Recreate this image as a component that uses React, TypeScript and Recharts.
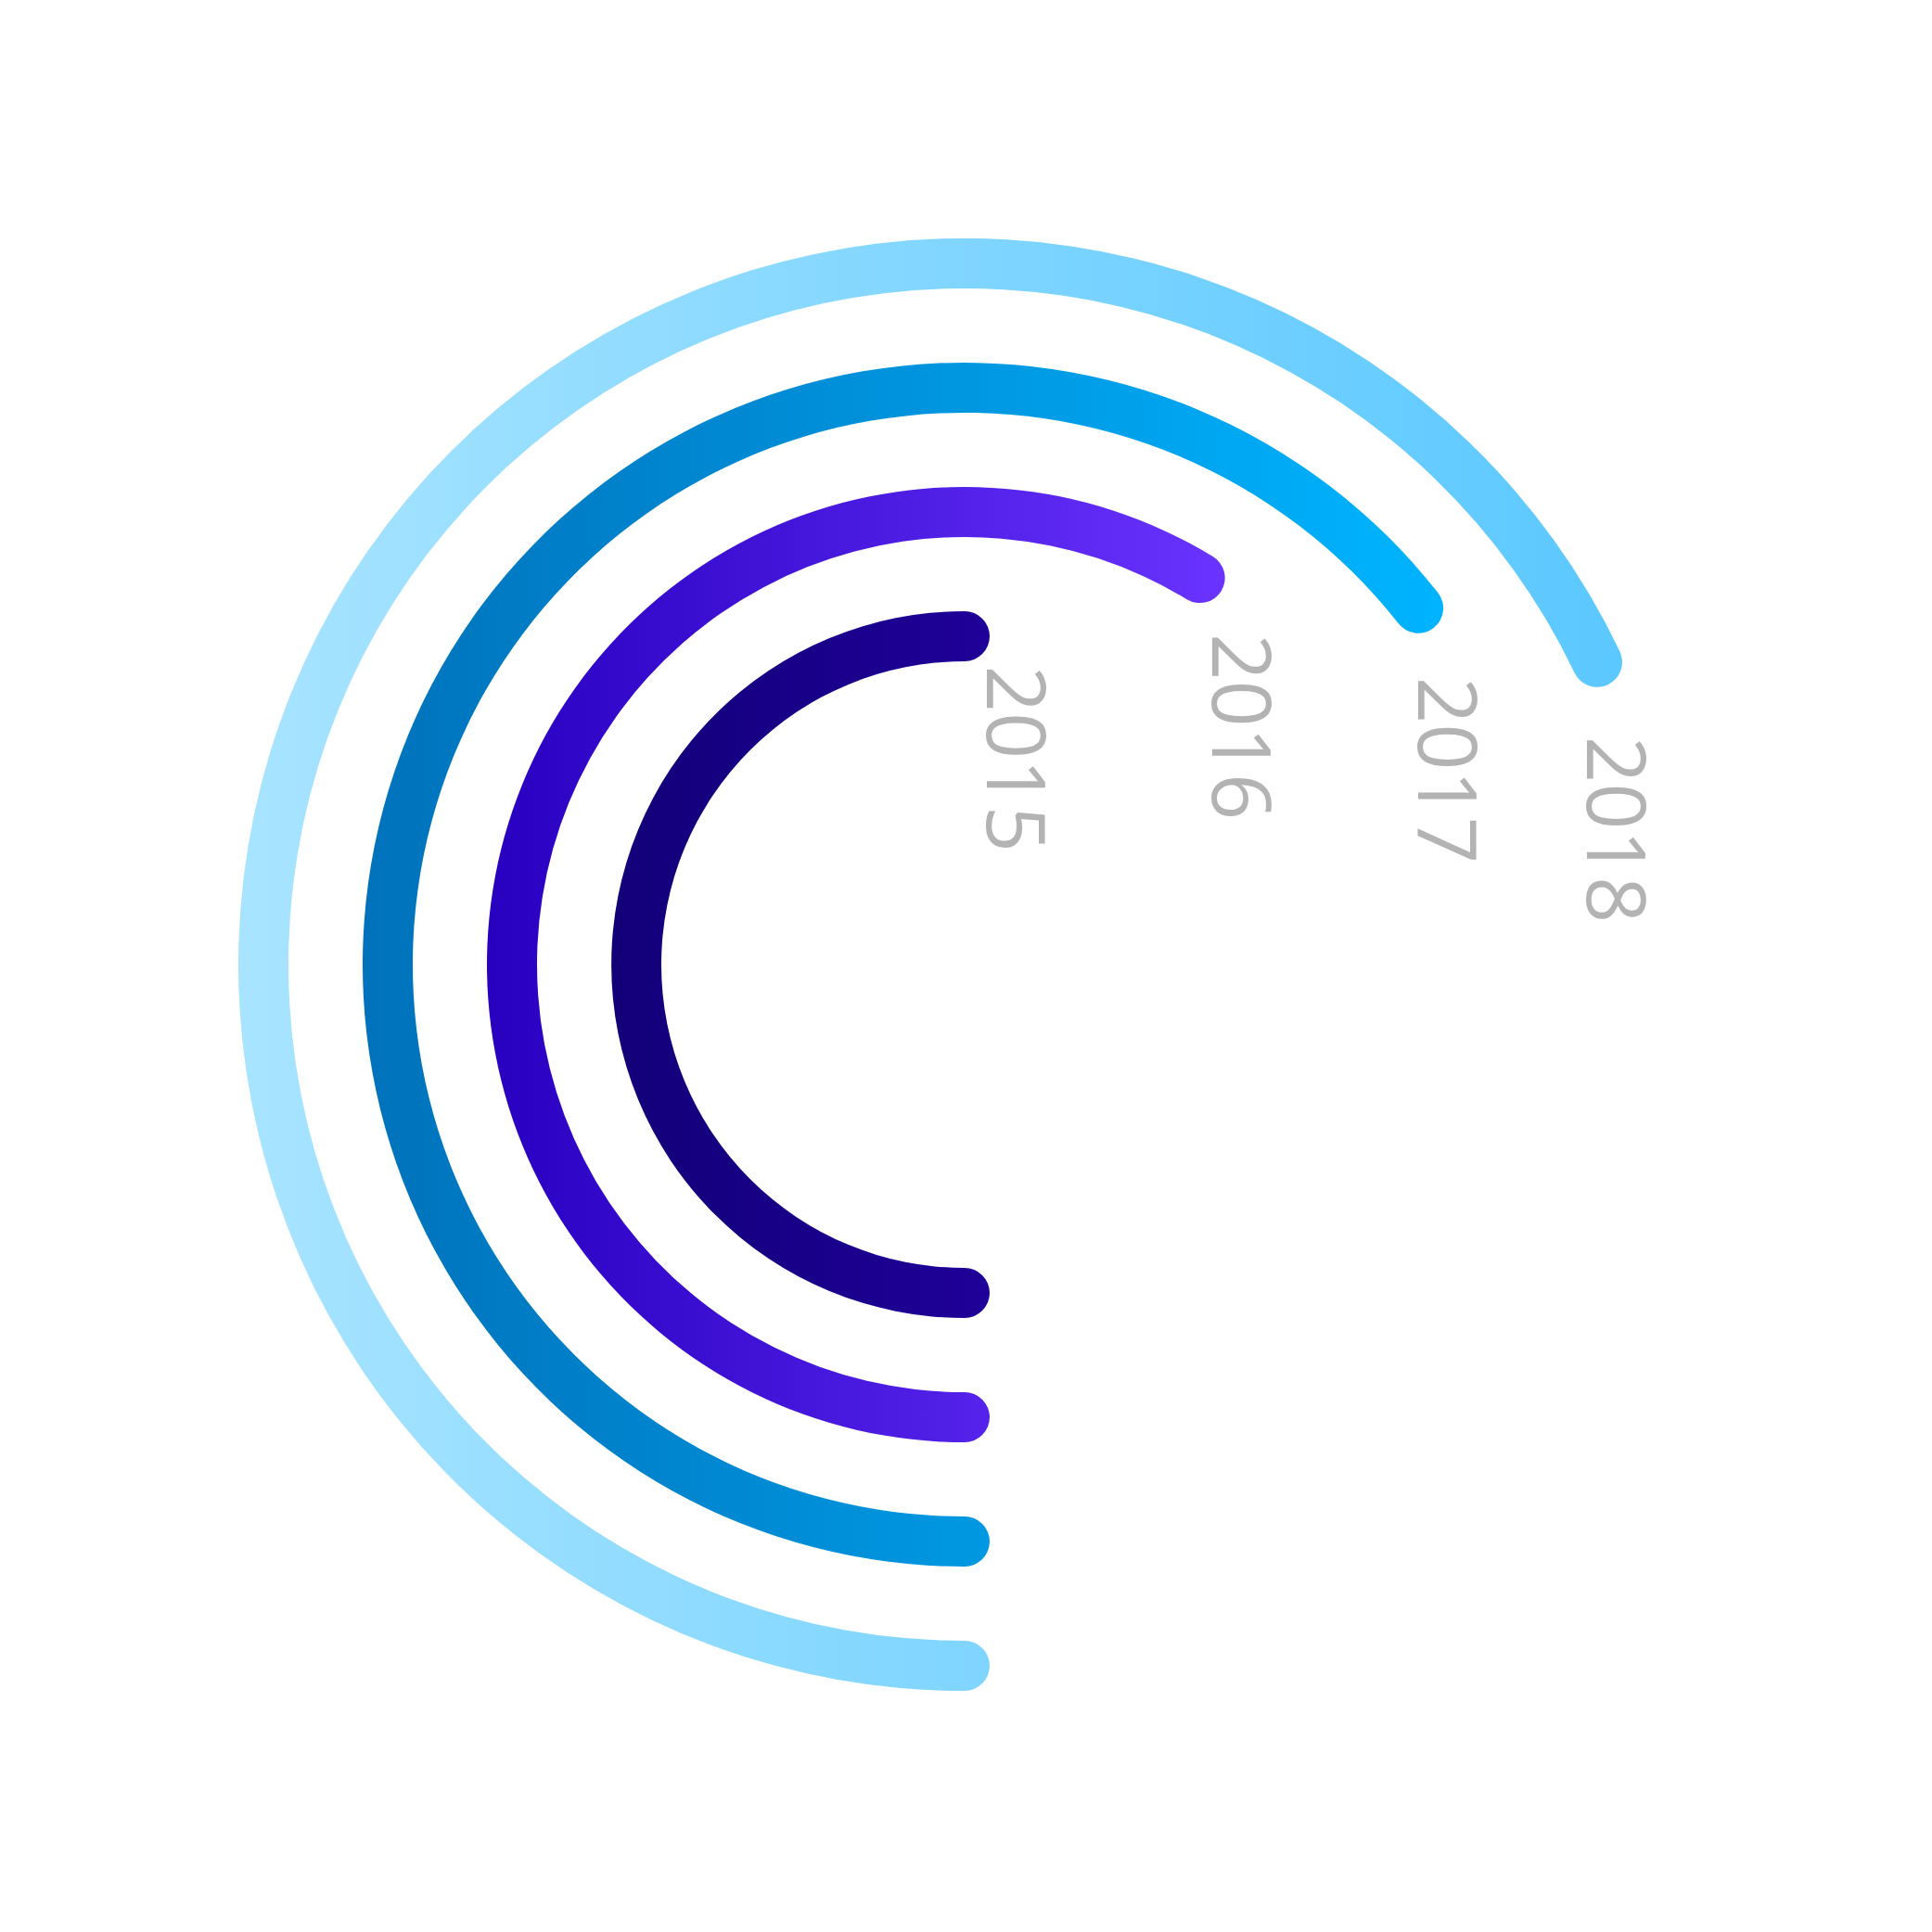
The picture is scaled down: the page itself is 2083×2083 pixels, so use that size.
import React from 'react';
import { RadialBarChart, RadialBar, PolarAngleAxis } from 'recharts';

const years = ['2015', '2016', '2017', '2018'];
const shares = [50, 58.7, 64.4, 67.9];
const leftColors = ['#120078', '#2800c0', '#0072bb', '#a8e4ff'];
const rightColors = ['#1f0099', '#6a33ff', '#00b4ff', '#5bc8ff'];

const data = years.map((year, i) => ({ year, value: shares[i] }));

const RAD = Math.PI / 180;
const polar = (cx: number, cy: number, r: number, a: number) => ({
  x: cx + Math.cos(-a * RAD) * r,
  y: cy + Math.sin(-a * RAD) * r,
});

const ArcShape = (props: any) => {
  const { cx, cy, innerRadius, outerRadius, startAngle, endAngle, index, payload } = props;
  const r = (innerRadius + outerRadius) / 2;
  const w = outerRadius - innerRadius;
  const h = w / 2;
  const span = Math.abs(startAngle - endAngle);
  const large = span > 180 ? 1 : 0;
  const so = polar(cx, cy, outerRadius, startAngle);
  const eo = polar(cx, cy, outerRadius, endAngle);
  const ei = polar(cx, cy, innerRadius, endAngle);
  const si = polar(cx, cy, innerRadius, startAngle);
  const e = polar(cx, cy, r, endAngle);
  const d =
    `M ${so.x} ${so.y} ` +
    `A ${outerRadius} ${outerRadius} 0 ${large} 1 ${eo.x} ${eo.y} ` +
    `A ${h} ${h} 0 0 1 ${ei.x} ${ei.y} ` +
    `A ${innerRadius} ${innerRadius} 0 ${large} 0 ${si.x} ${si.y} ` +
    `A ${h} ${h} 0 0 1 ${so.x} ${so.y} Z`;
  const x1 = cx - outerRadius;
  const x2 = Math.max(e.x, cx) + h;
  const id = `ringGrad${index}`;
  // label placed a short arc distance past the end of the ring
  const la = endAngle - (58 / r) / RAD;
  const lp = polar(cx, cy, r, la);
  const lx = lp.x;
  const ly = lp.y + 27;
  const label = payload && payload.year ? payload.year : years[index];
  return (
    <g>
      <defs>
        <linearGradient id={id} gradientUnits="userSpaceOnUse" x1={x1} y1={0} x2={x2} y2={0}>
          <stop offset="0%" stopColor={leftColors[index]} />
          <stop offset="100%" stopColor={rightColors[index]} />
        </linearGradient>
      </defs>
      <path d={d} fill={`url(#${id})`} stroke="none" />
      <text
        x={lx}
        y={ly}
        transform={`rotate(90 ${lx} ${ly})`}
        textAnchor="start"
        dominantBaseline="central"
        fill="#b3b3b3"
        fontFamily="'Open Sans', sans-serif"
        fontWeight={400}
        fontSize={88}
      >
        {label}
      </text>
    </g>
  );
};

export default function App() {
  return (
    <div style={{ width: 2067, height: 2067, background: '#ffffff' }}>
      <RadialBarChart
        width={2067}
        height={2067}
        cx={1032}
        cy={1032}
        innerRadius={287}
        outerRadius={823}
        startAngle={270}
        endAngle={-90}
        barSize={54}
        data={data}
        margin={{ top: 0, right: 0, bottom: 0, left: 0 }}
      >
        <PolarAngleAxis type="number" domain={[0, 100]} tick={false} axisLine={false} />
        <RadialBar dataKey="value" isAnimationActive={false} shape={ArcShape} />
      </RadialBarChart>
    </div>
  );
}
